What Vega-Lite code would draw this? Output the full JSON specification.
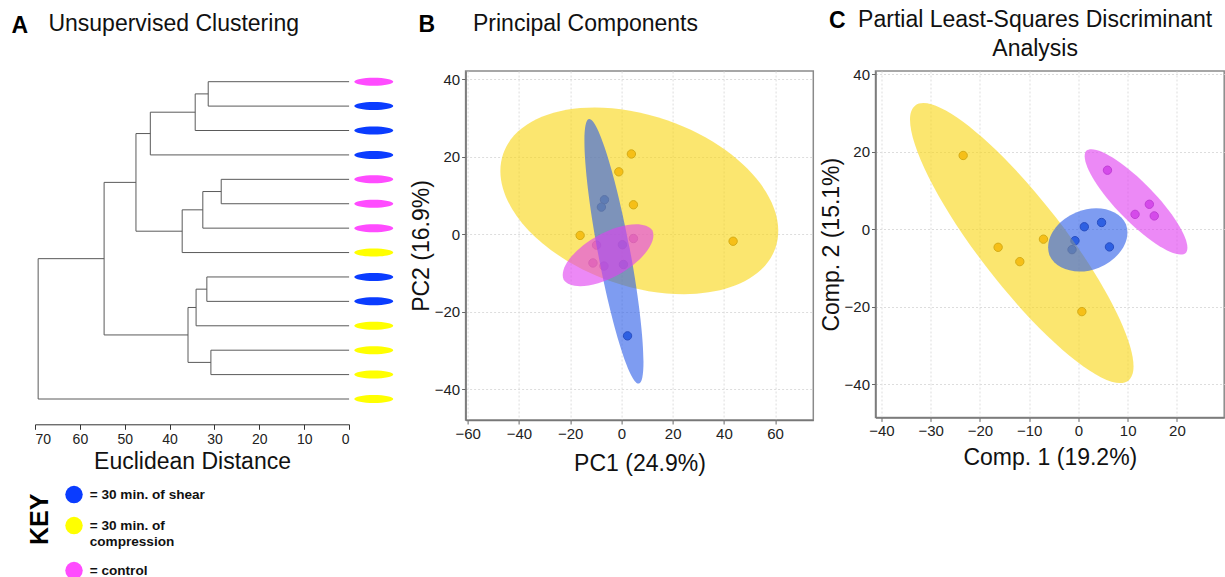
{
  "$schema": "https://vega.github.io/schema/vega-lite/v6.json",
  "background": "white",
  "padding": {"left": 11, "top": 8, "right": 0, "bottom": 0},
  "datasets": {
    "dendro": [
      {"d1": 0, "d2": 31.4, "p1": 1, "p2": 1},
      {"d1": 0, "d2": 31.4, "p1": 2, "p2": 2},
      {"d1": 31.4, "d2": 31.4, "p1": 1, "p2": 2},
      {"d1": 31.4, "d2": 34.3, "p1": 1.5, "p2": 1.5},
      {"d1": 0, "d2": 34.3, "p1": 3, "p2": 3},
      {"d1": 34.3, "d2": 34.3, "p1": 1.5, "p2": 3},
      {"d1": 34.3, "d2": 44.3, "p1": 2.25, "p2": 2.25},
      {"d1": 0, "d2": 44.3, "p1": 4, "p2": 4},
      {"d1": 44.3, "d2": 44.3, "p1": 2.25, "p2": 4},
      {"d1": 44.3, "d2": 47.5, "p1": 3.125, "p2": 3.125},
      {"d1": 0, "d2": 28.5, "p1": 5, "p2": 5},
      {"d1": 0, "d2": 28.5, "p1": 6, "p2": 6},
      {"d1": 28.5, "d2": 28.5, "p1": 5, "p2": 6},
      {"d1": 28.5, "d2": 32.6, "p1": 5.5, "p2": 5.5},
      {"d1": 0, "d2": 32.6, "p1": 7, "p2": 7},
      {"d1": 32.6, "d2": 32.6, "p1": 5.5, "p2": 7},
      {"d1": 32.6, "d2": 37.2, "p1": 6.25, "p2": 6.25},
      {"d1": 0, "d2": 37.2, "p1": 8, "p2": 8},
      {"d1": 37.2, "d2": 37.2, "p1": 6.25, "p2": 8},
      {"d1": 37.2, "d2": 47.5, "p1": 7.125, "p2": 7.125},
      {"d1": 47.5, "d2": 47.5, "p1": 3.125, "p2": 7.125},
      {"d1": 47.5, "d2": 54.6, "p1": 5.125, "p2": 5.125},
      {"d1": 0, "d2": 31.7, "p1": 9, "p2": 9},
      {"d1": 0, "d2": 31.7, "p1": 10, "p2": 10},
      {"d1": 31.7, "d2": 31.7, "p1": 9, "p2": 10},
      {"d1": 31.7, "d2": 34.1, "p1": 9.5, "p2": 9.5},
      {"d1": 0, "d2": 34.1, "p1": 11, "p2": 11},
      {"d1": 34.1, "d2": 34.1, "p1": 9.5, "p2": 11},
      {"d1": 34.1, "d2": 35.9, "p1": 10.25, "p2": 10.25},
      {"d1": 0, "d2": 30.8, "p1": 12, "p2": 12},
      {"d1": 0, "d2": 30.8, "p1": 13, "p2": 13},
      {"d1": 30.8, "d2": 30.8, "p1": 12, "p2": 13},
      {"d1": 30.8, "d2": 35.9, "p1": 12.5, "p2": 12.5},
      {"d1": 35.9, "d2": 35.9, "p1": 10.25, "p2": 12.5},
      {"d1": 35.9, "d2": 54.6, "p1": 11.375, "p2": 11.375},
      {"d1": 54.6, "d2": 54.6, "p1": 5.125, "p2": 11.375},
      {"d1": 54.6, "d2": 69.3, "p1": 8.25, "p2": 8.25},
      {"d1": 0, "d2": 69.3, "p1": 14, "p2": 14},
      {"d1": 69.3, "d2": 69.3, "p1": 8.25, "p2": 14}
    ],
    "leaves": [
      {"leaf": 1, "group": "control"},
      {"leaf": 2, "group": "shear"},
      {"leaf": 3, "group": "shear"},
      {"leaf": 4, "group": "shear"},
      {"leaf": 5, "group": "control"},
      {"leaf": 6, "group": "control"},
      {"leaf": 7, "group": "control"},
      {"leaf": 8, "group": "compression"},
      {"leaf": 9, "group": "shear"},
      {"leaf": 10, "group": "shear"},
      {"leaf": 11, "group": "compression"},
      {"leaf": 12, "group": "compression"},
      {"leaf": 13, "group": "compression"},
      {"leaf": 14, "group": "compression"}
    ],
    "pca": [
      {"group": "compression", "pc1": 3.9, "pc2": 20.7},
      {"group": "compression", "pc1": -1.0, "pc2": 16.1},
      {"group": "compression", "pc1": 4.7, "pc2": 7.6},
      {"group": "compression", "pc1": -16.1, "pc2": -0.3},
      {"group": "compression", "pc1": 43.6, "pc2": -1.8},
      {"group": "shear", "pc1": -6.6, "pc2": 8.9},
      {"group": "shear", "pc1": -7.8, "pc2": 7.0},
      {"group": "shear", "pc1": 2.4, "pc2": -26.2},
      {"group": "shear", "pc1": 0.4, "pc2": -2.7},
      {"group": "shear", "pc1": 0.8, "pc2": -7.8},
      {"group": "control", "pc1": 4.7, "pc2": -1.1},
      {"group": "control", "pc1": -9.7, "pc2": -2.8},
      {"group": "control", "pc1": -11.1, "pc2": -7.4},
      {"group": "control", "pc1": -6.8, "pc2": -8.2}
    ],
    "pls": [
      {"group": "compression", "c1": -23.4, "c2": 19.0},
      {"group": "compression", "c1": -16.3, "c2": -4.7},
      {"group": "compression", "c1": -11.9, "c2": -8.4},
      {"group": "compression", "c1": -7.1, "c2": -2.6},
      {"group": "compression", "c1": 0.7, "c2": -21.3},
      {"group": "shear", "c1": 1.2, "c2": 0.6},
      {"group": "shear", "c1": 4.7, "c2": 1.7},
      {"group": "shear", "c1": -0.7, "c2": -3.0},
      {"group": "shear", "c1": 6.3, "c2": -4.6},
      {"group": "shear", "c1": -1.3, "c2": -5.3},
      {"group": "control", "c1": 5.9, "c2": 15.2},
      {"group": "control", "c1": 14.4, "c2": 6.4},
      {"group": "control", "c1": 11.5, "c2": 3.8},
      {"group": "control", "c1": 15.4, "c2": 3.4}
    ],
    "ellipses": [
      {"panel": "B", "id": "B-compression", "group": "compression", "cx": 7.0, "cy": 8.6},
      {"panel": "B", "id": "B-shear", "group": "shear", "cx": -2.9, "cy": -4.4},
      {"panel": "B", "id": "B-control", "group": "control", "cx": -5.2, "cy": -5.4},
      {"panel": "C", "id": "C-compression", "group": "compression", "cx": -11.5, "cy": -3.6},
      {"panel": "C", "id": "C-shear", "group": "shear", "cx": 1.9, "cy": -2.8},
      {"panel": "C", "id": "C-control", "group": "control", "cx": 11.7, "cy": 7.0}
    ]
  },
  "resolve": {
    "scale": {"color": "independent", "fill": "independent", "stroke": "independent", "shape": "independent"},
    "legend": {"color": "independent", "fill": "independent", "stroke": "independent", "shape": "independent"}
  },
  "spacing": 14.6,
  "hconcat": [
    {
      "title": {"text": "A", "fontWeight": "bold", "anchor": "start", "frame": "bounds", "offset": -25, "dx": -14.6, "fontSize": 23, "color": "#000"},
      "resolve": {"scale": {"color": "independent"}, "legend": {"color": "independent"}},
      "vconcat": [
        {
          "title": {"text": ["Unsupervised Clustering", " "], "anchor": "start", "frame": "group", "dx": 13.4},
          "width": 314.1,
          "height": 353.3,
          "view": {"stroke": null},
          "layer": [
            {
              "data": {"name": "dendro"},
              "mark": {"type": "rule", "color": "#5a5a5a", "strokeWidth": 1},
              "encoding": {
                "x": {
                  "field": "d1", "type": "quantitative",
                  "scale": {"domain": [0, 70], "reverse": true, "nice": false, "zero": false},
                  "axis": {
                    "values": [0, 10, 20, 30, 40, 50, 60, 70],
                    "title": "Euclidean Distance",
                    "grid": false,
                    "labelFontSize": 14,
                    "domainColor": "#333333",
                    "domainWidth": 1,
                    "tickColor": "#333333",
                    "tickSize": 5,
                    "labelPadding": 3,
                    "titlePadding": 4
                  }
                },
                "x2": {"field": "d2"},
                "y": {
                  "field": "p1", "type": "quantitative",
                  "scale": {"domain": [0.562, 15.036], "reverse": true, "nice": false, "zero": false},
                  "axis": null
                },
                "y2": {"field": "p2"}
              }
            },
            {
              "data": {"name": "leaves"},
              "mark": {"type": "point", "shape": "M -19.5 0 A 19.5 4 0 1 1 19.5 0 A 19.5 4 0 1 1 -19.5 0 Z", "size": 4, "filled": true, "opacity": 1, "strokeWidth": 0},
              "encoding": {
                "x": {"datum": -5.5, "type": "quantitative"},
                "y": {"field": "leaf", "type": "quantitative"},
                "color": {
                  "field": "group", "type": "nominal",
                  "scale": {"domain": ["shear", "compression", "control"], "range": ["#0a3cff", "#ffff00", "#ff4cff"]},
                  "legend": {
                    "title": "KEY",
                    "orient": "none",
                    "legendX": -9,
                    "legendY": 414.6,
                    "titleOrient": "left",
                    "titleAnchor": "start",
                    "titleFontSize": 25,
                    "titleFontWeight": "bold",
                    "titleColor": "#000000",
                    "titlePadding": 13,
                    "symbolType": "circle",
                    "symbolSize": 306,
                    "symbolStrokeWidth": 0,
                    "symbolOpacity": 1,
                    "labelFontSize": 13.6,
                    "labelFontWeight": "bold",
                    "labelColor": "#111111",
                    "labelOffset": 6.7,
                    "labelLimit": 300,
                    "labelBaseline": "alphabetic",
                    "rowPadding": 13,
                    "labelExpr": "datum.value == 'shear' ? '= 30 min. of shear' : datum.value == 'compression' ? ['= 30 min. of', 'compression'] : '= control'",
                    "encode": {
                      "title": {"update": {"angle": {"value": -90}, "align": {"value": "right"}, "baseline": {"value": "top"}, "dx": {"value": -8}, "dy": {"value": 2}}},
                      "symbols": {"update": {"shape": {"value": "circle"}}},
                      "labels": {"update": {"dy": {"value": 4.5}, "lineHeight": {"value": 15.5}}}
                    }
                  }
                }
              }
            }
          ]
        }
      ]
    },
    {
      "spacing": 3.9,
      "resolve": {
        "scale": {"color": "independent", "fill": "independent", "stroke": "independent", "shape": "independent"},
        "legend": {"color": "independent", "fill": "independent", "stroke": "independent", "shape": "independent"}
      },
      "hconcat": [
        {
          "title": {"text": "B", "fontWeight": "bold", "anchor": "start", "frame": "bounds", "offset": -25, "dx": 9.1, "fontSize": 23, "color": "#000"},
          "vconcat": [
            {
              "title": {"text": ["Principal Components", " "], "anchor": "start", "frame": "group", "dx": 7.4},
              "width": 347.7,
              "height": 349,
              "layer": [
                {
                  "data": {"name": "pca"},
                  "mark": {"type": "point", "shape": "circle", "size": 70, "filled": true, "opacity": 1, "strokeWidth": 1},
                  "encoding": {
                    "x": {
                      "field": "pc1", "type": "quantitative",
                      "scale": {"domain": [-60.8, 74.9], "nice": false, "zero": false},
                      "axis": {"values": [-60, -40, -20, 0, 20, 40, 60], "title": "PC1 (24.9%)", "titlePadding": 11}
                    },
                    "y": {
                      "field": "pc2", "type": "quantitative",
                      "scale": {"domain": [-47.9, 42.1], "nice": false, "zero": false},
                      "axis": {"values": [-40, -20, 0, 20, 40], "title": "PC2 (16.9%)", "titlePadding": 1}
                    },
                    "fill": {"field": "group", "type": "nominal", "scale": {"domain": ["compression", "shear", "control"], "range": ["#f29a1a", "#2f62d8", "#c35ae0"]}, "legend": null},
                    "stroke": {"field": "group", "type": "nominal", "scale": {"domain": ["compression", "shear", "control"], "range": ["#9a6410", "#1a2f80", "#8a3aa8"]}, "legend": null}
                  }
                },
                {
                  "data": {"name": "ellipses"},
                  "transform": [{"filter": "datum.panel === 'B'"}],
                  "mark": {"type": "point", "size": 4, "filled": true, "opacity": 0.62, "strokeWidth": 0},
                  "encoding": {
                    "x": {"field": "cx", "type": "quantitative", "scale": {"domain": [-60.8, 74.9], "nice": false, "zero": false}},
                    "y": {"field": "cy", "type": "quantitative", "scale": {"domain": [-47.9, 42.1], "nice": false, "zero": false}},
                    "color": {"field": "group", "type": "nominal", "scale": {"domain": ["compression", "shear", "control"], "range": ["#f9d616", "#2f5fe8", "#e040f0"]}, "legend": null},
                    "shape": {
                      "field": "id", "type": "nominal",
                      "scale": {
                        "domain": ["B-compression", "B-shear", "B-control"],
                        "range": [
                          "M 136.1 47.1 A 144 85.2 19.1 0 1 -136.1 -47.1 A 144 85.2 19.1 0 1 136.1 47.1 Z",
                          "M 25 132.2 A 134.5 16 79.3 0 1 -25 -132.2 A 134.5 16 79.3 0 1 25 132.2 Z",
                          "M 44.4 -24.6 A 50.8 22.9 -29 0 1 -44.4 24.6 A 50.8 22.9 -29 0 1 44.4 -24.6 Z"
                        ]
                      },
                      "legend": null
                    }
                  }
                }
              ]
            }
          ]
        },
        {
          "title": {"text": "C", "fontWeight": "bold", "anchor": "start", "frame": "bounds", "offset": -25, "dx": 9.7, "fontSize": 23, "color": "#000"},
          "vconcat": [
            {
              "title": {"text": ["Partial Least-Squares Discriminant", "Analysis"], "anchor": "middle", "frame": "group", "dx": -14.7},
              "width": 348.7,
              "height": 346.4,
              "layer": [
                {
                  "data": {"name": "pls"},
                  "mark": {"type": "point", "shape": "circle", "size": 70, "filled": true, "opacity": 1, "strokeWidth": 1},
                  "encoding": {
                    "x": {
                      "field": "c1", "type": "quantitative",
                      "scale": {"domain": [-41.2, 29.6], "nice": false, "zero": false},
                      "axis": {"values": [-40, -30, -20, -10, 0, 10, 20], "title": "Comp. 1 (19.2%)", "titlePadding": 8}
                    },
                    "y": {
                      "field": "c2", "type": "quantitative",
                      "scale": {"domain": [-48.6, 40.8], "nice": false, "zero": false},
                      "axis": {"values": [-40, -20, 0, 20, 40], "title": "Comp. 2 (15.1%)", "titlePadding": 1}
                    },
                    "fill": {"field": "group", "type": "nominal", "scale": {"domain": ["compression", "shear", "control"], "range": ["#f29a1a", "#2f62d8", "#c35ae0"]}, "legend": null},
                    "stroke": {"field": "group", "type": "nominal", "scale": {"domain": ["compression", "shear", "control"], "range": ["#9a6410", "#1a2f80", "#8a3aa8"]}, "legend": null}
                  }
                },
                {
                  "data": {"name": "ellipses"},
                  "transform": [{"filter": "datum.panel === 'C'"}],
                  "mark": {"type": "point", "size": 4, "filled": true, "opacity": 0.62, "strokeWidth": 0},
                  "encoding": {
                    "x": {"field": "cx", "type": "quantitative", "scale": {"domain": [-41.2, 29.6], "nice": false, "zero": false}},
                    "y": {"field": "cy", "type": "quantitative", "scale": {"domain": [-48.6, 40.8], "nice": false, "zero": false}},
                    "color": {"field": "group", "type": "nominal", "scale": {"domain": ["compression", "shear", "control"], "range": ["#f9d616", "#2f5fe8", "#e040f0"]}, "legend": null},
                    "shape": {
                      "field": "id", "type": "nominal",
                      "scale": {
                        "domain": ["C-compression", "C-shear", "C-control"],
                        "range": [
                          "M 106.5 137.6 A 174 42.6 52.25 0 1 -106.5 -137.6 A 174 42.6 52.25 0 1 106.5 137.6 Z",
                          "M 38.3 -15.4 A 41.3 30.8 -21.9 0 1 -38.3 15.4 A 41.3 30.8 -21.9 0 1 38.3 -15.4 Z",
                          "M 49.7 51.1 A 71.3 19.6 45.8 0 1 -49.7 -51.1 A 71.3 19.6 45.8 0 1 49.7 51.1 Z"
                        ]
                      },
                      "legend": null
                    }
                  }
                }
              ]
            }
          ]
        }
      ]
    }
  ],
  "config": {
    "font": "Liberation Sans",
    "title": {"fontSize": 23, "fontWeight": "normal", "color": "#111111", "lineHeight": 29, "offset": 6},
    "axis": {
      "labelFontSize": 15,
      "labelColor": "#222222",
      "titleFontSize": 23,
      "titleFontWeight": "normal",
      "titleColor": "#111111",
      "domainColor": "#777777",
      "domainWidth": 1.5,
      "tickColor": "#666666",
      "tickSize": 4,
      "labelPadding": 2,
      "grid": true,
      "gridColor": "#dddddd",
      "gridDash": [2, 2],
      "gridWidth": 1
    },
    "view": {"stroke": "#8a8a8a", "strokeWidth": 1.5}
  }
}
